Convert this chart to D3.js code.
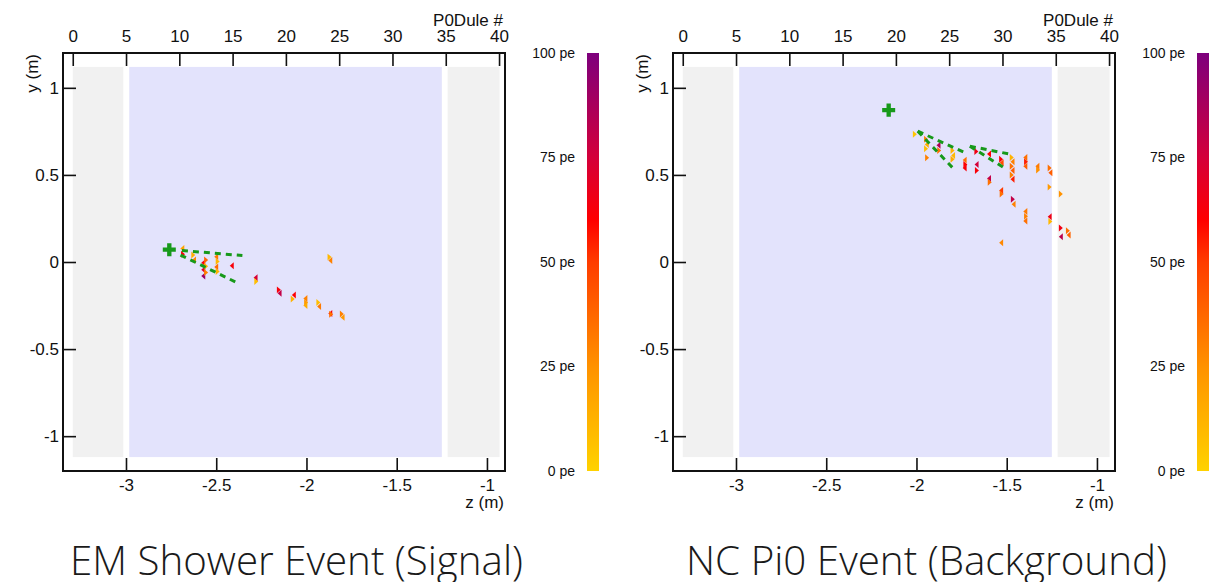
<!DOCTYPE html>
<html>
<head>
<meta charset="utf-8">
<script src="https://cdn.jsdelivr.net/npm/d3@7"></script>
<style>
  body { margin: 0; background: #fff; }
  svg { display: block; font-family: "Liberation Sans", Arial, Helvetica, sans-serif; }
</style>
</head>
<body>
<svg id="chart" width="1222" height="582"></svg>
<script>
// ---- axis ticks ----
const zTicks = [-3, -2.5, -2, -1.5, -1];
const yTicks = [-1, -0.5, 0, 0.5, 1];
const moduleTicks = [0, 5, 10, 15, 20, 25, 30, 35, 40];
const peTicks = [0, 25, 50, 75, 100];

// ---- detector layout (metres) ----
const zRange = [-3.349, -0.900];
const yRange = [-1.2, 1.2];
const moduleZ = [-3.295, -0.933];          // z of P0Dule 0 and P0Dule 40
const upstreamECal = [-3.295, -3.015];
const waterTarget = [-2.982, -1.250];
const centralECal = [-1.218, -0.930];
const activeY = [-1.12, 1.12];
const barHeight = 0.040;                   // triangular bar, y extent
const barDepth = 0.022;                    // triangular bar, z extent

// ---- event titles ----
const panelTitles = ["EM Shower Event (Signal)", "NC Pi0 Event (Background)"];

// ---- hits: [z (m), y (m), apex direction (+1 downstream, -1 upstream), charge (pe)] ----
const signalHits = [
  [-2.688, 0.078, -1, 18], [-2.684, 0.045, 1, 62],
  [-2.627, 0.040, 1, 14], [-2.623, 0.012, -1, 28],
  [-2.572, -0.005, -1, 62], [-2.572, -0.045, -1, 70], [-2.572, -0.080, -1, 92],
  [-2.556, 0.012, 1, 38], [-2.556, -0.025, 1, 12], [-2.556, -0.060, 1, 30],
  [-2.500, 0.030, -1, 32], [-2.492, 0.003, 1, 10], [-2.500, -0.028, -1, 36], [-2.492, -0.055, 1, 12],
  [-2.414, -0.022, -1, 62],
  [-2.282, -0.090, -1, 74], [-2.278, -0.112, 1, 8],
  [-1.872, 0.028, 1, 10], [-1.868, 0.008, -1, 30],
  [-2.153, -0.160, 1, 62], [-2.149, -0.180, -1, 80],
  [-2.070, -0.190, -1, 60], [-2.076, -0.212, 1, 12],
  [-2.006, -0.210, -1, 30], [-2.002, -0.232, 1, 22], [-2.006, -0.250, -1, 15],
  [-1.934, -0.232, 1, 8], [-1.930, -0.255, -1, 32],
  [-1.868, -0.296, -1, 62], [-1.863, -0.300, 1, 35],
  [-1.804, -0.298, 1, 30], [-1.800, -0.318, -1, 22]
];

const backgroundHits = [
  [-2.009, 0.734, 1, 5],
  [-1.947, 0.705, 1, 30], [-1.943, 0.675, -1, 15], [-1.947, 0.650, 1, 8],
  [-1.941, 0.598, 1, 30],
  [-1.878, 0.670, -1, 85], [-1.874, 0.640, 1, 35],
  [-1.800, 0.640, 1, 12], [-1.797, 0.612, -1, 10], [-1.800, 0.590, 1, 15],
  [-1.733, 0.585, -1, 35], [-1.729, 0.560, 1, 60], [-1.733, 0.540, -1, 62],
  [-1.668, 0.635, 1, 65],
  [-1.667, 0.560, -1, 75], [-1.665, 0.525, 1, 62],
  [-1.598, 0.620, -1, 60],
  [-1.598, 0.480, -1, 80], [-1.594, 0.458, 1, 35],
  [-1.531, 0.590, 1, 60], [-1.528, 0.570, -1, 45],
  [-1.472, 0.600, 1, 12], [-1.468, 0.575, -1, 30], [-1.472, 0.550, 1, 35],
  [-1.468, 0.525, -1, 40], [-1.472, 0.500, 1, 30], [-1.468, 0.475, -1, 55],
  [-1.397, 0.600, -1, 35], [-1.393, 0.575, 1, 55], [-1.397, 0.550, -1, 40],
  [-1.330, 0.550, -1, 32], [-1.326, 0.528, 1, 25],
  [-1.262, 0.540, 1, 35], [-1.258, 0.512, -1, 40],
  [-1.262, 0.430, 1, 22],
  [-1.200, 0.390, 1, 25],
  [-1.531, 0.410, -1, 50], [-1.528, 0.390, 1, 35],
  [-1.466, 0.360, 1, 80], [-1.462, 0.332, -1, 30],
  [-1.397, 0.290, -1, 32], [-1.393, 0.262, 1, 30], [-1.397, 0.235, -1, 35],
  [-1.262, 0.260, -1, 65], [-1.258, 0.232, 1, 10],
  [-1.200, 0.195, 1, 65],
  [-1.200, 0.145, -1, 82],
  [-1.161, 0.180, 1, 35], [-1.157, 0.155, -1, 38],
  [-1.531, 0.110, -1, 28]
];

// ---- reconstructed vertices and shower cone edges: [z0, y0, z1, y1] ----
const signalVertex = [-2.760, 0.071];
const signalCones = [
  [-2.690, 0.066, -2.355, 0.037],
  [-2.698, 0.040, -2.393, -0.115]
];
const backgroundVertex = [-2.154, 0.872];
const backgroundCones = [
  [-1.993, 0.751, -1.726, 0.625],
  [-1.993, 0.751, -1.798, 0.539],
  [-1.704, 0.665, -1.482, 0.619],
  [-1.704, 0.665, -1.515, 0.541]
];

// ---- charge colour scale ----
const peStops = [0, 25, 50, 60, 75, 100];
const peColours = ["#ffd200", "#ff9200", "#ff3c00", "#ff0000", "#d4003a", "#7d007d"];
const peColour = d3.scaleLinear().domain(peStops).range(peColours).clamp(true);

// plain hyphen-minus tick labels
const plainNumber = d => String(d);

const svg = d3.select("#chart");

// shared gradient for the colour bars
const grad = svg.append("defs").append("linearGradient")
  .attr("id", "peGradient").attr("x1", 0).attr("y1", 1).attr("x2", 0).attr("y2", 0);
peStops.forEach((s, i) => grad.append("stop")
  .attr("offset", s / 100).attr("stop-color", peColours[i]));

function drawPanel(opt) {
  const { dx, hits, vertex, cones, title } = opt;
  const x0 = 63 + dx, x1 = 505 + dx, y0 = 53, y1 = 471;
  const g = svg.append("g");

  const z = d3.scaleLinear().domain(zRange).range([x0, x1]);
  const y = d3.scaleLinear().domain(yRange).range([y1, y0]);
  const mod = d3.scaleLinear().domain([0, 40]).range([z(moduleZ[0]), z(moduleZ[1])]);
  const pe = d3.scaleLinear().domain([0, 100]).range([y1, y0]);

  // detector regions
  const regions = [
    { r: upstreamECal, fill: "#f1f1f1" },
    { r: waterTarget, fill: "#e3e3fc" },
    { r: centralECal, fill: "#f1f1f1" }
  ];
  g.selectAll("rect.region").data(regions).join("rect")
    .attr("class", "region")
    .attr("x", d => z(d.r[0])).attr("width", d => z(d.r[1]) - z(d.r[0]))
    .attr("y", y(activeY[1])).attr("height", y(activeY[0]) - y(activeY[1]))
    .attr("fill", d => d.fill);

  // hits as triangular scintillator bars
  const hh = (y(0) - y(barHeight)) / 2;
  const ww = z(barDepth) - z(0);
  g.selectAll("path.hit").data(hits).join("path")
    .attr("class", "hit")
    .attr("d", d => {
      const cx = z(d[0]), cy = y(d[1]), s = d[2];
      const bx = cx - s * ww / 2, ax = cx + s * ww / 2;
      return `M${bx},${cy - hh}L${ax},${cy}L${bx},${cy + hh}Z`;
    })
    .attr("fill", d => peColour(d[3]));

  // shower cone edges
  g.selectAll("line.cone").data(cones).join("line")
    .attr("class", "cone")
    .attr("x1", d => z(d[0])).attr("y1", d => y(d[1]))
    .attr("x2", d => z(d[2])).attr("y2", d => y(d[3]))
    .attr("stroke", "#17991a").attr("stroke-width", 3)
    .attr("stroke-dasharray", "6,5");

  // vertex
  g.append("path")
    .attr("d", d3.symbol(d3.symbolCross, 94)())
    .attr("transform", `translate(${z(vertex[0])},${y(vertex[1])})`)
    .attr("fill", "#17991a");

  // axes
  const axB = g.append("g").attr("transform", `translate(0,${y1})`)
    .call(d3.axisBottom(z).tickValues(zTicks).tickSize(-13).tickPadding(8).tickFormat(plainNumber));
  const axT = g.append("g").attr("transform", `translate(0,${y0})`)
    .call(d3.axisTop(mod).tickValues(moduleTicks).tickSize(-13).tickPadding(11).tickFormat(plainNumber));
  const axL = g.append("g").attr("transform", `translate(${x0},0)`)
    .call(d3.axisLeft(y).tickValues(yTicks).tickSize(-13).tickPadding(4).tickFormat(plainNumber));
  [axB, axT, axL].forEach(a => {
    a.select(".domain").remove();
    a.selectAll(".tick line").attr("stroke", "#111").attr("stroke-width", 1.6);
    a.selectAll(".tick text").attr("font-size", 17).attr("fill", "#111")
      .attr("font-family", "'Liberation Sans', Arial, sans-serif");
  });

  // frame
  g.append("rect").attr("x", x0).attr("y", y0)
    .attr("width", x1 - x0).attr("height", y1 - y0)
    .attr("fill", "none").attr("stroke", "#111").attr("stroke-width", 2);

  // axis titles
  g.append("text").attr("x", x1 - 1).attr("y", 508).attr("text-anchor", "end")
    .attr("font-size", 17).attr("fill", "#111").text("z (m)");
  g.append("text").attr("x", x1 - 2).attr("y", 26).attr("text-anchor", "end")
    .attr("font-size", 17).attr("fill", "#111").text("P0Dule #");
  g.append("text").attr("transform", `translate(${38 + dx},54) rotate(-90)`)
    .attr("text-anchor", "end").attr("font-size", 17).attr("fill", "#111").text("y (m)");

  // colour bar
  const cbx = 587 + dx;
  g.append("rect").attr("x", cbx).attr("y", y0).attr("width", 12).attr("height", y1 - y0)
    .attr("fill", "url(#peGradient)");
  g.selectAll("text.pe").data(peTicks).join("text")
    .attr("class", "pe")
    .attr("x", cbx - 12).attr("y", d => pe(d)).attr("dy", "0.35em")
    .attr("text-anchor", "end").attr("font-size", 14).attr("fill", "#111")
    .text(d => `${d} pe`);

  // event title
  g.append("text")
    .attr("x", title.cx).attr("y", 575).attr("text-anchor", "middle")
    .attr("font-family", "'Open Sans', 'DejaVu Sans', sans-serif").attr("font-weight", 300)
    .attr("font-size", 41).attr("fill", "#1a1a1a")
    .attr("textLength", title.len).attr("lengthAdjust", "spacingAndGlyphs")
    .text(title.text);
}

drawPanel({ dx: 0, hits: signalHits, vertex: signalVertex, cones: signalCones,
  title: { text: panelTitles[0], cx: 296.5, len: 453 } });
drawPanel({ dx: 610, hits: backgroundHits, vertex: backgroundVertex, cones: backgroundCones,
  title: { text: panelTitles[1], cx: 926.5, len: 481 } });
</script>
</body>
</html>
